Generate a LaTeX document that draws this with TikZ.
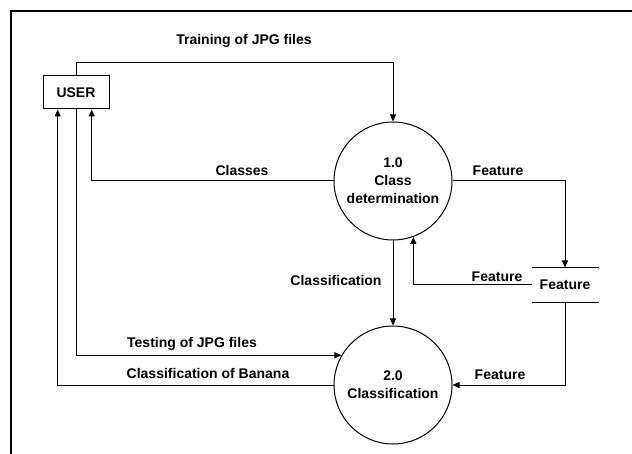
\documentclass[tikz,border=0pt]{standalone}
\usepackage{fontspec}
\setmainfont{Liberation Sans}
\usetikzlibrary{arrows.meta}
\begin{document}
\begin{tikzpicture}[x=1pt,y=-1pt,
  font=\fontsize{14}{18}\selectfont\bfseries,
  line width=1pt,
  flow/.style={-{Triangle[length=7pt,width=6pt]}},
  entity/.style={draw,rectangle,minimum width=66pt,minimum height=33pt,inner sep=0pt},
  process/.style={draw,circle,minimum size=118pt,inner sep=0pt,align=center},
  datastore/.style={rectangle,minimum width=66pt,minimum height=34pt,inner sep=0pt},
  lbl/.style={anchor=base,inner sep=0pt}]
  \useasboundingbox (0,0) rectangle (632,454);
  % frame
  \draw[line width=2pt] (11,454) -- (11,11) -- (640,11);

  % nodes
  \node[entity] (user) at (76,92.5) {USER};
  \node[process] (p1) at (393,181) {1.0\\Class\\determination};
  \node[process] (p2) at (393,385) {2.0\\Classification};
  \node[datastore] (store) at (565,285) {Feature};
  \draw (store.north west) -- (store.north east);
  \draw (store.south west) -- (store.south east);

  % flows
  \draw[flow] (user.north) -- ++(0,-13.3) -| (p1.north);
  \draw[flow] (p1.west) -| ([xshift=15.7pt]user.south);
  \draw[flow] (p2.west) -| ([xshift=-18.3pt]user.south);
  \draw[flow] (user.south) |- (p2.150);
  \draw[flow] (p1.east) -| (store.north);
  \draw[flow] (store.west) -| (p1.-70);
  \draw[flow] (store.south) |- (p2.east);
  \draw[flow] (p1.south) -- (p2.north);

  % labels
  \node[lbl] (lTrain) at (244,45) {Training of JPG files};
  \node[lbl] (lClasses) at (242,176) {Classes};
  \node[lbl] (lFeatOut) at (498,176) {Feature};
  \node[lbl] (lFeatBack) at (497,282) {Feature};
  \node[lbl] (lClassif) at (336,286) {Classification};
  \node[lbl] (lTest) at (192,348) {Testing of JPG files};
  \node[lbl] (lBanana) at (208,378) {Classification of Banana};
  \node[lbl] (lFeatIn) at (500,380) {Feature};
\end{tikzpicture}
\end{document}
